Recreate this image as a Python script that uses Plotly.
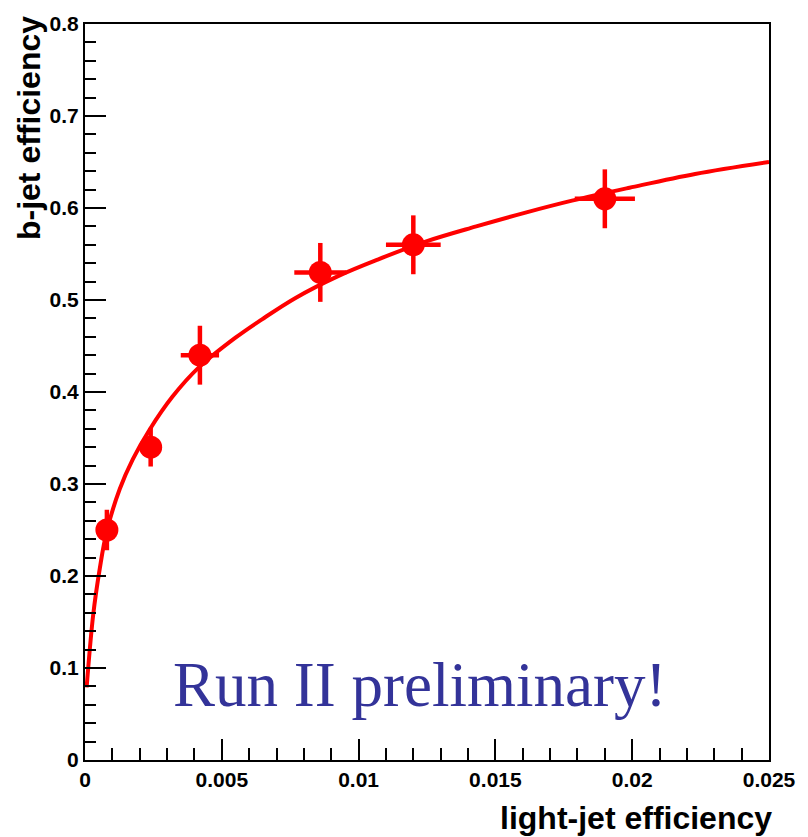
import plotly.graph_objects as go

# measured points
light_eff = [0.0008, 0.0024, 0.0042, 0.0086, 0.0120, 0.0190]
b_eff = [0.25, 0.34, 0.44, 0.53, 0.56, 0.61]
light_err = [0.0003, 0.0004, 0.0007, 0.00095, 0.0010, 0.0011]
b_err = [0.022, 0.021, 0.032, 0.032, 0.032, 0.032]

# fitted curve
curve_x = [0.00006, 0.0003, 0.00054, 0.00079, 0.00127, 0.00175, 0.00236, 0.0032,
           0.00417, 0.0055, 0.00647, 0.00768, 0.00925, 0.0107, 0.0125, 0.0143,
           0.0161, 0.0178, 0.0199, 0.0223, 0.0250]
curve_y = [0.079, 0.158, 0.208, 0.248, 0.2945, 0.327, 0.359, 0.395,
           0.427, 0.459, 0.479, 0.502, 0.526, 0.544, 0.564, 0.580,
           0.595, 0.608, 0.622, 0.637, 0.650]

x_ticks = [0, 0.005, 0.01, 0.015, 0.02, 0.025]
x_tick_labels = ["0", "0.005", "0.01", "0.015", "0.02", "0.025"]
y_ticks = [0, 0.1, 0.2, 0.3, 0.4, 0.5, 0.6, 0.7, 0.8]
y_tick_labels = ["0", "0.1", "0.2", "0.3", "0.4", "0.5", "0.6", "0.7", "0.8"]

RED = "#ff0000"

fig = go.Figure()
fig.add_trace(go.Scatter(
    x=light_eff, y=b_eff, mode="markers",
    marker=dict(color=RED, size=23),
    error_x=dict(type="data", array=light_err, color=RED, thickness=4.5, width=0),
    error_y=dict(type="data", array=b_err, color=RED, thickness=4.5, width=0),
    showlegend=False, hoverinfo="skip",
))
fig.add_trace(go.Scatter(
    x=curve_x, y=curve_y, mode="lines",
    line=dict(color=RED, width=4, shape="spline", smoothing=1.0),
    showlegend=False, hoverinfo="skip",
))

tickfont = dict(family="Liberation Sans", size=21, color="black", weight="bold")
fig.update_xaxes(
    range=[0, 0.025], showline=True, linecolor="black", linewidth=2, mirror=True,
    tickmode="array", tickvals=x_ticks, ticktext=x_tick_labels,
    ticks="inside", ticklen=21, tickwidth=2, tickcolor="black",
    minor=dict(ticks="inside", ticklen=12, tickwidth=2, tickcolor="black", dtick=0.001,
               showgrid=False),
    showgrid=False, zeroline=False, tickfont=tickfont,
)
fig.update_yaxes(
    range=[0, 0.8], showline=True, linecolor="black", linewidth=2, mirror=True,
    tickmode="array", tickvals=y_ticks, ticktext=y_tick_labels,
    ticks="inside", ticklen=21, tickwidth=2, tickcolor="black",
    minor=dict(ticks="inside", ticklen=11, tickwidth=2, tickcolor="black", dtick=0.02,
               showgrid=False),
    showgrid=False, zeroline=False, tickfont=tickfont,
)

fig.add_annotation(
    text="<b>b-jet efficiency</b>", textangle=-90, xref="paper", yref="paper",
    x=-0.081, y=1.013, xanchor="center", yanchor="top", showarrow=False,
    font=dict(family="Liberation Sans", size=32, color="black"),
)
fig.add_annotation(
    text="<b>light-jet efficiency</b>", xref="paper", yref="paper",
    x=1.008, y=(760 - 819) / 742.5, xanchor="right", yanchor="middle", showarrow=False,
    font=dict(family="Liberation Sans", size=32, color="black"),
)
fig.add_annotation(
    text="Run II preliminary!", xref="paper", yref="paper",
    x=0.125, y=(760 - 684) / 742.5, xanchor="left", yanchor="middle", showarrow=False,
    font=dict(family="Liberation Serif", size=63, color="#333399"),
)

fig.update_layout(
    width=808, height=837,
    margin=dict(l=85, r=34, t=18, b=77),
    paper_bgcolor="white", plot_bgcolor="white",
)
fig.write_html("out.html")
